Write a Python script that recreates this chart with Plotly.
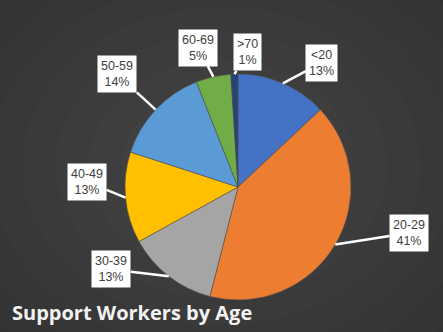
import math
import plotly.graph_objects as go

categories = ["<20", "20-29", "30-39", "40-49", "50-59", "60-69", ">70"]
values = [13, 41, 13, 13, 14, 5, 1]
colors = ["#4472C4", "#ED7D31", "#A5A5A5", "#FFC000", "#5B9BD5", "#70AD47", "#264478"]
title_text = "Support Workers by Age"

# layout (pixels)
W, H = 443, 332
cx, cy, R = 238, 187, 113
# label box placement: (angle from north clockwise in degrees, distance from centre)
label_place = [(34, 150), (105, 177), (237, 151), (272, 151), (313, 165), (344, 145), (4, 135)]

fig = go.Figure(go.Pie(
    labels=categories, values=values, sort=False, direction="clockwise", rotation=0,
    marker=dict(colors=colors, line=dict(color="#505050", width=0.6)),
    textinfo="none", hoverinfo="label+percent", showlegend=False,
    domain=dict(x=[(cx - R) / W, (cx + R) / W], y=[(H - cy - R) / H, (H - cy + R) / H]),
))

total = sum(values)
cum = 0
ann = []
for cat, v, (la, ld) in zip(categories, values, label_place):
    mid = (cum + v / 2) / total * 2 * math.pi
    cum += v
    tx = cx + R * math.sin(mid)
    ty = cy - R * math.cos(mid)
    lx = cx + ld * math.sin(math.radians(la))
    ly = cy - ld * math.cos(math.radians(la))
    pct = round(v / total * 100)
    ann.append(dict(
        x=tx / W, y=1 - ty / H, xref="paper", yref="paper",
        ax=lx - tx, ay=ly - ty, axref="pixel", ayref="pixel",
        text=f"{cat}<br>{pct}%", showarrow=True, arrowhead=0, arrowwidth=2.5,
        arrowcolor="white", bgcolor="white", borderpad=3,
        font=dict(family="Liberation Sans, Arial", size=12.5, color="#404040"),
        align="center",
    ))

ann.append(dict(
    x=10 / W, y=1 - 312 / H, xref="paper", yref="paper", xanchor="left", yanchor="middle",
    text=f"<b>{title_text}</b>", showarrow=False,
    font=dict(family="Open Sans", size=20, color="#F2F2F2"),
))

# soft radial background glow
shapes = []
for i in range(8):
    f = 1 - i * 0.1
    shapes.append(dict(
        type="circle", xref="paper", yref="paper", layer="below",
        x0=0.5 - 0.75 * f, x1=0.5 + 0.75 * f, y0=0.5 - 0.8 * f, y1=0.5 + 0.8 * f,
        fillcolor="white", opacity=0.012, line=dict(width=0),
    ))

fig.update_layout(
    width=W, height=H, margin=dict(l=0, r=0, t=0, b=0),
    paper_bgcolor="#303030", plot_bgcolor="#303030",
    annotations=ann, shapes=shapes,
)
fig.write_html("out.html")
